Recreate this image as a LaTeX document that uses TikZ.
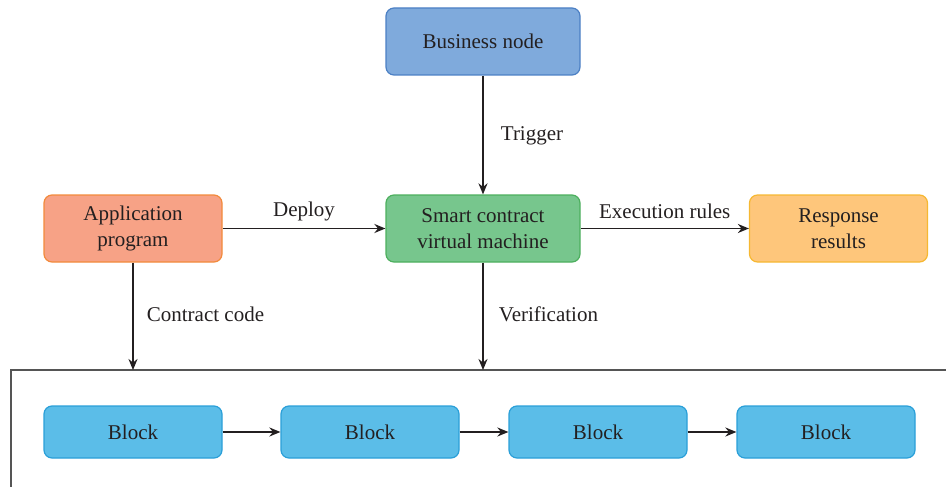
\documentclass[tikz,border=0pt]{standalone}
\usepackage{fontspec}
\setmainfont{Liberation Serif}
\usetikzlibrary{arrows.meta,positioning}
\definecolor{txtcol}{HTML}{231F20}
\definecolor{bizfill}{HTML}{7FAADC}
\definecolor{bizline}{HTML}{4C80C4}
\definecolor{appfill}{HTML}{F7A286}
\definecolor{appline}{HTML}{F28A3C}
\definecolor{vmfill}{HTML}{77C68D}
\definecolor{vmline}{HTML}{4DAF5E}
\definecolor{resfill}{HTML}{FEC67B}
\definecolor{resline}{HTML}{F6B832}
\definecolor{blkfill}{HTML}{5BBDE8}
\definecolor{blkline}{HTML}{2A9FD8}
\definecolor{framecol}{HTML}{555555}

\begin{document}
\begin{tikzpicture}[x=1pt,y=-1pt,
  box/.style={draw, line width=1.2pt, rounded corners=8pt, minimum height=67pt,
    align=center, text=txtcol, font=\fontsize{21}{26}\selectfont},
  blockbox/.style={box, fill=blkfill, draw=blkline, minimum width=178pt, minimum height=52pt},
  link/.style={line width=1.8pt, draw=txtcol, -{Stealth[length=11pt,width=9pt]}},
  lbl/.style={text=txtcol, font=\fontsize{21}{26}\selectfont, inner sep=0pt}]
\clip (0,0) rectangle (946,487);

% top row
\node[box, fill=bizfill, draw=bizline, minimum width=194pt] (biz) at (483,41.5) {Business node};
\node[box, fill=appfill, draw=appline, minimum width=178pt] (app) at (133,228.5) {Application\\program};
\node[box, fill=vmfill, draw=vmline, minimum width=194pt] (vm) at (483,228.5) {Smart contract\\virtual machine};
\node[box, fill=resfill, draw=resline, minimum width=178pt] (res) at (838.5,228.5) {Response\\results};

% chain frame
\draw[line width=1.3pt, draw=framecol] (960,370) -- (11,370) -- (11,500);
\coordinate (appin) at (133,370);
\coordinate (vmin) at (483,370);

% blocks
\node[blockbox] (b1) at (133,432) {Block};
\node[blockbox] (b2) at (370,432) {Block};
\node[blockbox] (b3) at (598,432) {Block};
\node[blockbox] (b4) at (826,432) {Block};

% connectors
\draw[link] (biz) -- node[lbl, midway, anchor=west, xshift=17pt, yshift=-1pt] {Trigger} (vm);
\draw[link] (app) -- node[lbl, midway, yshift=17pt] {Deploy} (vm);
\draw[link] (vm) -- node[lbl, midway, yshift=17pt] {Execution rules} (res);
\draw[link] (app) -- node[lbl, midway, anchor=west, xshift=13pt, yshift=2pt] {Contract code} (appin);
\draw[link] (vm) -- node[lbl, midway, anchor=west, xshift=15pt, yshift=2pt] {Verification} (vmin);
\draw[link] (b1) -- (b2);
\draw[link] (b2) -- (b3);
\draw[link] (b3) -- (b4);
\end{tikzpicture}
\end{document}
